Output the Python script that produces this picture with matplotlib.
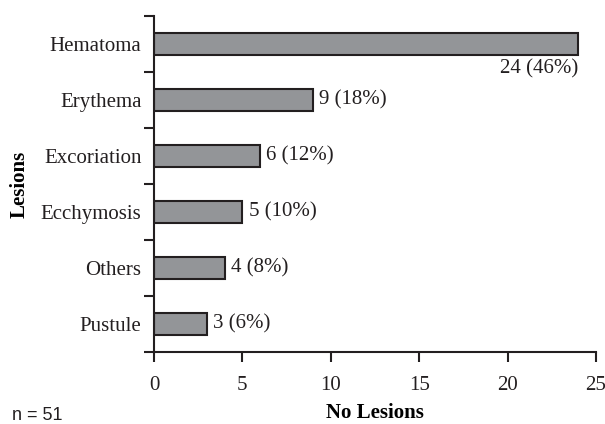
import matplotlib
matplotlib.use("Agg")
import matplotlib.pyplot as plt
import numpy as np

lesions = ["Hematoma", "Erythema", "Excoriation", "Ecchymosis", "Others", "Pustule"]
counts = [24, 9, 6, 5, 4, 3]
percents = [46, 18, 12, 10, 8, 6]
x_ticks = [0, 5, 10, 15, 20, 25]

plt.rcParams["font.family"] = ["Liberation Serif", "DejaVu Serif"]
plt.rcParams["text.color"] = "#231f20"
plt.rcParams["xtick.color"] = "#231f20"
plt.rcParams["ytick.color"] = "#231f20"

fig = plt.figure(figsize=(6.05, 4.24), dpi=100)
ax = fig.add_axes([0.2545, 0.1698, 0.7305, 0.7925])

y = np.arange(len(lesions))[::-1]
ax.barh(y, counts, height=0.41, color="#939598", edgecolor="#231f20", linewidth=1.5)

for yi, c, p in zip(y, counts, percents):
    label = f"{c} ({p}%)"
    if c == max(counts):
        ax.text(c, yi - 0.27, label, ha="right", va="top", fontsize=15)
    else:
        ax.text(c + 0.35, yi, label, ha="left", va="center", fontsize=15)

ax.set_xlim(0, 25)
ax.set_ylim(-0.5, len(lesions) - 0.5)
ax.set_xticks(x_ticks)
ax.set_yticks(y)
ax.set_yticklabels(lesions)
ax.set_yticks(np.arange(-0.5, len(lesions)), minor=True)
ax.tick_params(axis="y", which="major", length=0, pad=9, labelsize=15)
ax.tick_params(axis="y", which="minor", length=7, width=1.5, direction="out")
ax.tick_params(axis="x", length=7, width=1.5, direction="out", pad=10, labelsize=15)

for side in ("top", "right"):
    ax.spines[side].set_visible(False)
for side in ("left", "bottom"):
    ax.spines[side].set_linewidth(1.5)
    ax.spines[side].set_color("#231f20")

ax.set_xlabel("No Lesions", fontsize=15, fontweight="bold", labelpad=6)
ax.set_ylabel("Lesions", fontsize=15, fontweight="bold", labelpad=8)

fig.text(0.02, 0.0, "n = 51", fontsize=13, family="Liberation Sans", va="bottom")

fig.savefig("out.png", dpi=100)
